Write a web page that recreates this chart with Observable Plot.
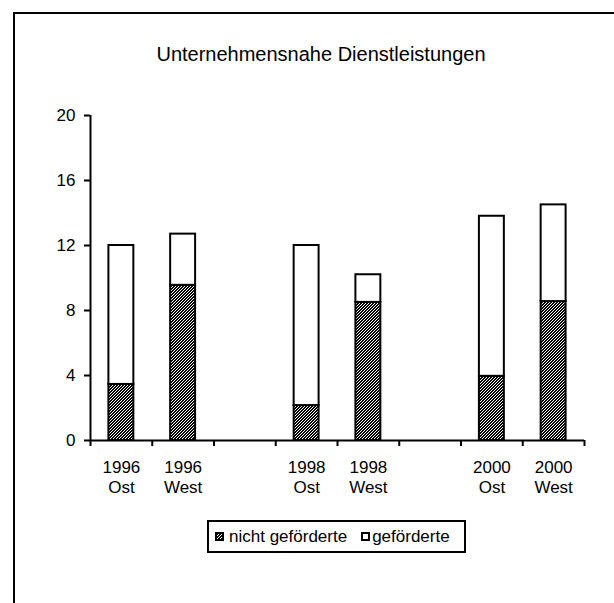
<!DOCTYPE html>
<html><head><meta charset="utf-8">
<script src="https://cdn.jsdelivr.net/npm/d3@7"></script>
<script src="https://cdn.jsdelivr.net/npm/@observablehq/plot@0.6"></script>
<style>
html,body{margin:0;padding:0;background:#fff;font-family:"Liberation Sans",Arial,sans-serif;color:#000;overflow:hidden;}
#wrap{position:relative;width:614px;height:603px;overflow:hidden;background:#fff;}
#frame{position:absolute;left:0;top:0;}
#title{position:absolute;left:0;width:642px;top:44px;text-align:center;font-size:20px;line-height:20px;white-space:nowrap;}
#chart{position:absolute;left:0;top:0;}
#legend{position:absolute;left:207px;top:520px;width:259px;height:33px;border:2px solid #000;box-sizing:border-box;display:flex;align-items:center;font-size:17px;padding-left:6px;white-space:nowrap;background:#fff;}
#legend svg{display:block;flex:none;}
</style>
</head><body>
<div id="wrap">
  <svg id="frame" width="614" height="603">
    <defs>
      <pattern id="hatch" patternUnits="userSpaceOnUse" width="3" height="3">
        <rect width="3" height="3" fill="#000"/>
        <path d="M-1,1 l2,-2 M0,3 l3,-3 M2,4 l2,-2" stroke="#fff" stroke-width="1"/>
      </pattern>
    </defs>
    <rect x="13" y="12" width="2" height="591" fill="#000"/>
    <rect x="13" y="12" width="580" height="2" fill="#000"/>
    <rect x="593" y="12" width="21" height="2" fill="#000"/>
  </svg>
  <div id="title">Unternehmensnahe Dienstleistungen</div>
  <div id="chart"></div>
  <div id="legend"></div>
</div>
<script>
// categories (slots along the x axis, blanks are gaps between years)
const categories = ["1996 Ost", "1996 West", "", "1998 Ost", "1998 West", " ", "2000 Ost", "2000 West"];
const bars = ["1996 Ost", "1996 West", "1998 Ost", "1998 West", "2000 Ost", "2000 West"];
const tickLabels = ["1996\nOst", "1996\nWest", "1998\nOst", "1998\nWest", "2000\nOst", "2000\nWest"];
const seriesNames = ["nicht geförderte", "geförderte"];
const nichtGefoerdert = [3.45, 9.55, 2.15, 8.5, 3.95, 8.55];
const gefoerdert = [8.55, 3.15, 9.85, 1.7, 9.85, 5.95];
const yTicks = [0, 4, 8, 12, 16, 20];

const rows = [];
bars.forEach((b, i) => {
  const s = categories.indexOf(b);
  rows.push({series: seriesNames[0], s, y1: 0, y2: nichtGefoerdert[i]});
  rows.push({series: seriesNames[1], s, y1: nichtGefoerdert[i], y2: nichtGefoerdert[i] + gefoerdert[i]});
});
const labels = bars.map((b, i) => ({s: categories.indexOf(b), text: tickLabels[i]}));

const inset = 18.4;
const chart = Plot.plot({
  width: 614, height: 500,
  marginLeft: 90, marginRight: 30, marginTop: 115, marginBottom: 60,
  style: {fontFamily: "Liberation Sans, Arial, sans-serif", fontSize: "17px", color: "#000", background: "transparent"},
  x: {domain: [0, categories.length], label: null},
  y: {domain: [0, 20], label: null},
  marks: [
    Plot.rect(rows.filter(d => d.series === seriesNames[0]), {
      x1: d => d.s, x2: d => d.s + 1, y1: d => d.y1, y2: d => d.y2,
      insetLeft: inset, insetRight: inset,
      fill: "url(#hatch)", stroke: "#000", strokeWidth: 2
    }),
    Plot.rect(rows.filter(d => d.series === seriesNames[1]), {
      x1: d => d.s, x2: d => d.s + 1, y1: d => d.y1, y2: d => d.y2,
      insetLeft: inset, insetRight: inset,
      fill: "#fff", stroke: "#000", strokeWidth: 2
    }),
    Plot.axisY({ticks: yTicks, tickSize: 6, tickPadding: 9, strokeWidth: 2, fontSize: 17, label: null}),
    Plot.axisX({ticks: d3.range(categories.length + 1), tickSize: 6, tickFormat: () => "", strokeWidth: 2, label: null}),
    Plot.ruleX([0], {stroke: "#000", strokeWidth: 2}),
    Plot.ruleY([0], {stroke: "#000", strokeWidth: 2}),
    Plot.text(labels, {
      x: d => d.s + 0.5, text: d => d.text, frameAnchor: "bottom",
      lineAnchor: "top", dy: 18, fontSize: 17, lineHeight: 1.17, fill: "#000"
    })
  ]
});
document.getElementById("chart").append(chart);

// legend
const legend = document.getElementById("legend");
const fills = ["url(#hatch)", "#fff"];
const gaps = [[0, 5], [14, 2]];
seriesNames.forEach((name, i) => {
  const sw = document.createElementNS("http://www.w3.org/2000/svg", "svg");
  sw.setAttribute("width", 9); sw.setAttribute("height", 9);
  sw.style.marginLeft = gaps[i][0] + "px";
  sw.style.marginRight = gaps[i][1] + "px";
  sw.innerHTML = `<rect x="1" y="1" width="7" height="7" fill="${fills[i]}" stroke="#000" stroke-width="2"/>`;
  legend.append(sw);
  const span = document.createElement("span");
  span.textContent = name;
  legend.append(span);
});
</script>
</body></html>
